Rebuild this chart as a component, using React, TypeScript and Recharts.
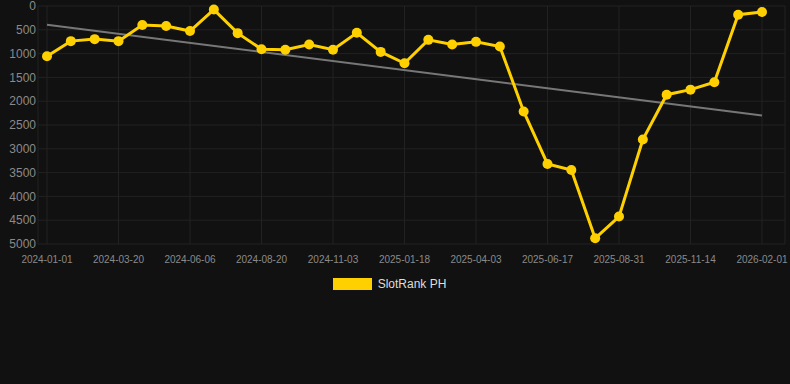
import { LineChart, Line, XAxis, YAxis, CartesianGrid, Legend } from 'recharts'

const dates = [
  '2024-01-01', '2024-01-27', '2024-02-23', '2024-03-20', '2024-04-15', '2024-05-11',
  '2024-06-06', '2024-07-01', '2024-07-26', '2024-08-20', '2024-09-14', '2024-10-09',
  '2024-11-03', '2024-11-28', '2024-12-24', '2025-01-18', '2025-02-12', '2025-03-09',
  '2025-04-03', '2025-04-28', '2025-05-23', '2025-06-17', '2025-07-12', '2025-08-06',
  '2025-08-31', '2025-09-25', '2025-10-20', '2025-11-14', '2025-12-10', '2026-01-05',
  '2026-02-01',
]

const rank = [
  1055, 738, 696, 738, 400, 420, 527, 75, 570, 907, 920, 810, 918, 563, 964, 1203,
  711, 808, 753, 850, 2215, 3319, 3445, 4880, 4424, 2806, 1863, 1757, 1603, 184, 127,
]

// regression line end points only, the rest gets connected
const trendStart = 394
const trendEnd = 2300

const yTicks = [0, 500, 1000, 1500, 2000, 2500, 3000, 3500, 4000, 4500, 5000]

const YELLOW = '#FFD000'

const data = dates.map((d, i) => ({
  date: d,
  rank: rank[i],
  trend: i === 0 ? trendStart : i === dates.length - 1 ? trendEnd : null,
}))

function LegendBox() {
  return (
    <div style={{ display: 'flex', justifyContent: 'center', alignItems: 'center', marginLeft: -6 }}>
      <span style={{ display: 'inline-block', width: 39, height: 12, background: YELLOW, marginRight: 6 }} />
      <span style={{ fontSize: 12, color: '#dddddd' }}>SlotRank PH</span>
    </div>
  )
}

export default function App() {
  return (
    <div style={{ position: 'absolute', left: 0, top: 0, width: 790, height: 384, background: '#111111', fontFamily: '"Liberation Sans", Arial, sans-serif' }}>
      <LineChart width={790} height={384} data={data} margin={{ top: 6, right: 5, left: 0, bottom: 100 }}>
        <CartesianGrid stroke="#222222" strokeWidth={1} />
        <XAxis
          dataKey="date"
          interval={2}
          padding={{ left: 9, right: 23 }}
          tick={{ fontSize: 10, fill: '#8a8a8a' }}
          axisLine={false}
          tickLine={false}
          tickMargin={6}
          height={26}
        />
        <YAxis
          reversed
          domain={[0, 5000]}
          ticks={yTicks}
          interval={0}
          width={38}
          tick={{ fontSize: 12, fill: '#8a8a8a' }}
          axisLine={false}
          tickLine={false}
          tickSize={0}
          tickMargin={2}
        />
        <Legend verticalAlign="bottom" content={() => <LegendBox />} wrapperStyle={{ bottom: 93 }} />
        <Line
          dataKey="trend"
          stroke="#777777"
          strokeWidth={2}
          dot={false}
          connectNulls
          isAnimationActive={false}
          legendType="none"
        />
        <Line
          dataKey="rank"
          stroke={YELLOW}
          strokeWidth={3}
          dot={{ r: 5, fill: YELLOW, stroke: YELLOW, strokeWidth: 0 }}
          activeDot={false}
          isAnimationActive={false}
        />
      </LineChart>
    </div>
  )
}
